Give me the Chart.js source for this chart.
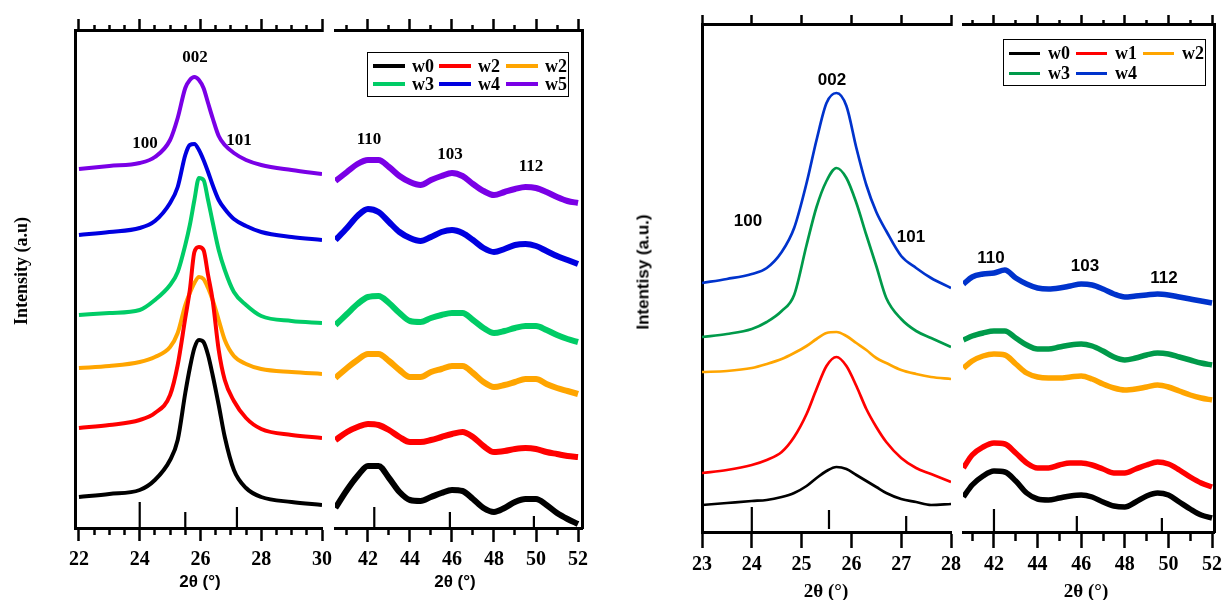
<!DOCTYPE html>
<html>
<head>
<meta charset="utf-8">
<title>XRD patterns</title>
<script src="https://cdn.jsdelivr.net/npm/chart.js@4.4.1/dist/chart.umd.min.js"></script>
<style>
  html, body { margin: 0; padding: 0; background: #fff; }
  body { position: relative; width: 1224px; height: 600px; overflow: hidden; }
  canvas { position: absolute; top: 0; }
  .t { position: absolute; transform: translate(-50%, -50%); font-weight: bold; white-space: nowrap; color: #000; line-height: 1; }
  .serif { font-family: 'Liberation Serif', 'Times New Roman', serif; }
  .sans { font-family: 'Liberation Sans', Arial, sans-serif; }
  .yt { transform: translate(-50%, -50%) rotate(-90deg); }
  .legend { position: absolute; border: 1.5px solid #000; box-sizing: border-box; background: #fff; }
  .legend .item { position: absolute; display: flex; align-items: center; transform: translateY(-50%);
                  font: bold 18px 'Liberation Serif', serif; line-height: 1; }
</style>
</head>
<body>
<canvas id="aLow" width="345" height="600" style="left:0"></canvas>
<canvas id="aHigh" width="300" height="600" style="left:312px"></canvas>
<canvas id="bLow" width="350" height="600" style="left:620px"></canvas>
<canvas id="bHigh" width="290" height="600" style="left:945px"></canvas>

<!-- left figure text -->
<div class="t serif yt" style="left:21px;top:271px;font-size:18px">Intensity (a.u)</div>
<div class="t sans" style="left:200px;top:581px;font-size:17px">2θ (°)</div>
<div class="t sans" style="left:455px;top:581px;font-size:17px">2θ (°)</div>
<div class="t serif" style="left:195px;top:56px;font-size:17px">002</div>
<div class="t serif" style="left:145px;top:142px;font-size:17px">100</div>
<div class="t serif" style="left:239px;top:139px;font-size:17px">101</div>
<div class="t serif" style="left:369px;top:138px;font-size:17px">110</div>
<div class="t serif" style="left:450px;top:153px;font-size:17px">103</div>
<div class="t serif" style="left:531px;top:165px;font-size:17px">112</div>
<div id="legA" class="legend" style="left:367px;top:52px;width:202px;height:45px"></div>

<!-- right figure text -->
<div class="t sans yt" style="left:643px;top:272px;font-size:17px">Intentisy (a.u.)</div>
<div class="t serif" style="left:826px;top:590px;font-size:19px">2θ (°)</div>
<div class="t serif" style="left:1086px;top:590px;font-size:19px">2θ (°)</div>
<div class="t sans" style="left:832px;top:79px;font-size:17px">002</div>
<div class="t sans" style="left:748px;top:220px;font-size:17px">100</div>
<div class="t sans" style="left:911px;top:236px;font-size:17px">101</div>
<div class="t sans" style="left:991px;top:257px;font-size:17px">110</div>
<div class="t sans" style="left:1085px;top:265px;font-size:17px">103</div>
<div class="t sans" style="left:1164px;top:277px;font-size:17px">112</div>
<div id="legB" class="legend" style="left:1003px;top:39px;width:203px;height:47px"></div>

<script>
// ---- sample set A (w0..w5) ----
const namesA = ['w0', 'w2', 'w2', 'w3', 'w4', 'w5'];
const colorsA = ['#000000', '#ff0000', '#ffa500', '#00cc66', '#0000e0', '#7a00e6'];

// 2θ 22–30 region (002 peak)
const xA1 = [22, 23, 24, 24.5, 25, 25.25, 25.5, 25.65, 25.8, 25.95, 26.1, 26.25, 26.4, 26.6, 26.8, 27.1, 27.5, 28, 29, 30];
const a1w0 = [31, 34, 38, 48, 68, 88, 135, 160, 180, 188, 186, 173, 153, 123, 91, 58, 40, 31, 26, 23];
const a1w2r = [100, 103, 108, 115, 133, 163, 210, 238, 276, 281, 278, 253, 228, 178, 148, 127, 110, 99, 93, 90];
const a1w2o = [160, 162, 166, 171, 181, 195, 223, 235, 245, 251, 249, 240, 228, 208, 188, 172, 164, 159, 156, 154];
const a1w3 = [213, 215, 218, 228, 243, 256, 283, 303, 328, 350, 348, 328, 306, 278, 258, 236, 223, 212, 207, 205];
const a1w4 = [293, 296, 300, 307, 325, 341, 373, 383, 384, 378, 368, 356, 343, 328, 319, 309, 302, 296, 291, 288];
const a1w5 = [359, 362, 365, 371, 388, 410, 440, 448, 451, 448, 440, 425, 410, 392, 383, 375, 368, 363, 358, 354];

// 2θ 40–52 region (110, 103, 112)
const xA2 = [40.45, 41, 41.5, 42, 42.5, 43, 43.5, 44, 44.5, 45, 45.5, 46, 46.5, 47, 47.5, 48, 48.5, 49, 49.5, 50, 50.5, 51, 51.5, 52];
const a2w0 = [20, 38, 52, 62, 62, 50, 36, 28, 27, 31, 35, 38, 37, 29, 20, 16, 20, 26, 29, 29, 23, 15, 9, 4];
const a2w2r = [88, 96, 101, 104, 103, 98, 91, 86, 86, 88, 91, 94, 96, 91, 82, 76, 77, 79, 80, 79, 76, 74, 72, 71];
const a2w2o = [150, 160, 168, 174, 174, 167, 158, 151, 151, 156, 159, 162, 162, 155, 146, 141, 143, 146, 149, 149, 144, 140, 137, 134];
const a2w3 = [203, 214, 224, 231, 232, 225, 215, 207, 206, 210, 213, 215, 215, 208, 200, 195, 197, 200, 202, 202, 198, 193, 189, 186];
const a2w4 = [288, 300, 312, 319, 316, 306, 296, 290, 287, 291, 296, 298, 295, 288, 280, 276, 279, 283, 284, 282, 277, 272, 268, 264];
const a2w5 = [347, 356, 364, 368, 368, 361, 352, 346, 343, 348, 352, 355, 352, 344, 337, 333, 336, 339, 341, 340, 336, 331, 327, 325];

// reference pattern lines
const refA1 = [24, 25.5, 27.2];
const refA1h = [26, 16, 21];
const refA2 = [42.3, 45.9, 49.9];
const refA2h = [21, 16, 12];

// tick values
const ticksA1 = [22, 24, 26, 28, 30];
const minorA1 = [22.5, 23, 23.5, 24.5, 25, 25.5, 26.5, 27, 27.5, 28.5, 29, 29.5];
const ticksA2 = [42, 44, 46, 48, 50, 52];
const minorA2 = [41, 43, 45, 47, 49, 51];

// ---- sample set B (w0..w4) ----
const namesB = ['w0', 'w1', 'w2', 'w3', 'w4'];
const colorsB = ['#000000', '#ff0000', '#ffa500', '#009a4a', '#0033cc'];

const xB1 = [23, 23.5, 24, 24.3, 24.6, 24.85, 25.1, 25.3, 25.5, 25.7, 25.9, 26.1, 26.3, 26.5, 26.7, 27, 27.3, 27.6, 28];
const b1w0 = [27, 29, 31, 32, 35, 39, 46, 54, 61, 65, 63, 57, 51, 45, 39, 33, 30, 27, 28];
const b1w1 = [59, 62, 67, 72, 80, 95, 118, 143, 166, 175, 166, 146, 123, 105, 90, 74, 64, 58, 50];
const b1w2 = [160, 161, 164, 168, 173, 179, 186, 193, 199, 200, 196, 189, 182, 174, 169, 162, 158, 155, 153];
const b1w3 = [195, 198, 203, 210, 221, 237, 287, 325, 351, 364, 354, 329, 297, 266, 234, 213, 201, 194, 185];
const b1w4 = [249, 253, 258, 264, 280, 304, 349, 392, 429, 439, 426, 384, 347, 320, 301, 276, 264, 254, 244];

const xB2 = [40.6, 41, 41.5, 42, 42.5, 43, 43.5, 44, 44.5, 45, 45.5, 46, 46.5, 47, 47.5, 48, 48.5, 49, 49.5, 50, 50.5, 51, 51.5, 52];
const b2w0 = [35, 47, 56, 61, 60, 51, 39, 33, 32, 34, 36, 37, 35, 30, 26, 25, 30, 36, 39, 37, 30, 23, 17, 14];
const b2w1 = [64, 77, 85, 89, 88, 79, 69, 64, 64, 67, 69, 69, 67, 63, 59, 59, 63, 67, 70, 68, 62, 55, 49, 45];
const b2w2 = [164, 171, 176, 178, 177, 168, 159, 155, 154, 154, 155, 156, 153, 148, 144, 142, 143, 145, 147, 145, 141, 137, 134, 132];
const b2w3 = [192, 196, 199, 201, 201, 194, 187, 183, 183, 185, 187, 188, 186, 181, 175, 172, 174, 177, 179, 178, 175, 172, 169, 167];
const b2w4 = [248, 255, 258, 259, 262, 254, 248, 244, 243, 244, 246, 248, 247, 243, 238, 235, 236, 237, 238, 237, 235, 233, 231, 229];

const refB1 = [24, 25.55, 27.1];
const refB1h = [25, 22, 16];
const refB1base = [0, 3, 0];
const refB2 = [42, 45.8, 49.7];
const refB2h = [23, 16, 14];

const ticksB1 = [23, 24, 25, 26, 27, 28];
const ticksB2 = [42, 44, 46, 48, 50, 52];
const minorB2 = [41, 43, 45, 47, 49, 51];

const tickFont = { family: "'Liberation Serif', 'Times New Roman', serif", weight: 'bold', size: 20 };

function tickAxis(values, yPos, len, opts) {
  return {
    type: 'linear', axis: 'x', position: { y: yPos },
    min: opts.min, max: opts.max, bounds: 'data',
    afterBuildTicks: ax => { ax.ticks = values.map(v => ({ value: v })); },
    grid: { drawOnChartArea: false, tickLength: len, tickWidth: 2.5, tickColor: '#000' },
    border: { display: true, width: 3, color: '#000' },
    ticks: {
      display: !!opts.labels, autoSkip: false, maxRotation: 0, minRotation: 0,
      padding: opts.pad || 0, color: '#000', font: tickFont,
      callback: v => String(v)
    }
  };
}

function createPanel(canvasId, p) {
  const datasets = p.series.map((ys, i) => ({
    data: p.xs.map((x, j) => ({ x: x, y: ys[j] })),
    borderColor: p.colors[i],
    borderWidth: p.width,
    showLine: true,
    pointRadius: 0,
    fill: false,
    cubicInterpolationMode: 'monotone'
  }));

  // short vertical sticks for the reference pattern
  const sticks = [];
  p.ref.forEach((x, i) => {
    const base = p.refBase ? p.refBase[i] : 0;
    sticks.push({ x: x, y: base }, { x: x, y: p.refH[i] }, { x: x, y: null });
  });
  datasets.push({ data: sticks, borderColor: '#000', borderWidth: 2.2, showLine: true, pointRadius: 0, spanGaps: false });

  const scales = {
    x: tickAxis(p.majors, 0, p.bottomLen[0], { min: p.min, max: p.max, labels: true, pad: p.labelPad }),
    xTop: tickAxis(p.majors, p.yMax, -p.topLen[0], { min: p.min, max: p.max }),
    y: {
      type: 'linear', position: p.side, min: 0, max: p.yMax, bounds: 'data',
      ticks: { display: false }, grid: { display: false, drawTicks: false, tickLength: 0 },
      border: { display: true, width: 3, color: '#000' }
    }
  };
  if (p.minors) {
    scales.xMinor = tickAxis(p.minors, 0, p.bottomLen[1], { min: p.min, max: p.max });
    scales.xTopMinor = tickAxis(p.minors, p.yMax, -p.topLen[1], { min: p.min, max: p.max });
  }

  new Chart(document.getElementById(canvasId), {
    type: 'scatter',
    data: { datasets: datasets },
    options: {
      responsive: false,
      animation: false,
      layout: { padding: p.padding },
      plugins: { legend: { display: false }, tooltip: { enabled: false } },
      scales: scales
    }
  });
}

function buildLegend(id, names, colors, cfg) {
  const box = document.getElementById(id);
  names.forEach((name, i) => {
    const item = document.createElement('div');
    item.className = 'item';
    item.style.left = cfg.cols[i % 3] + 'px';
    item.style.top = cfg.rows[Math.floor(i / 3)] + 'px';
    const swatch = document.createElement('span');
    swatch.style.cssText = `display:inline-block;width:${cfg.line}px;height:${cfg.thick}px;background:${colors[i]};margin-right:${cfg.gap}px`;
    item.appendChild(swatch);
    item.appendChild(document.createTextNode(name));
    box.appendChild(item);
  });
}

createPanel('aLow', {
  xs: xA1, series: [a1w0, a1w2r, a1w2o, a1w3, a1w4, a1w5], colors: colorsA, width: 4,
  ref: refA1, refH: refA1h,
  min: 21.87, max: 30, yMax: 498, side: 'left',
  majors: ticksA1, minors: minorA1, bottomLen: [11, 5], topLen: [13, 7], labelPad: 9,
  padding: { left: 75, right: 23, top: 30, bottom: 72 }
});

createPanel('aHigh', {
  xs: xA2, series: [a2w0, a2w2r, a2w2o, a2w3, a2w4, a2w5], colors: colorsA, width: 6,
  ref: refA2, refH: refA2h,
  min: 40.43, max: 52.19, yMax: 498, side: 'right',
  majors: ticksA2, minors: minorA2, bottomLen: [12, 5], topLen: [13, 7], labelPad: 8,
  padding: { left: 23, right: 30, top: 30, bottom: 72 }
});

createPanel('bLow', {
  xs: xB1, series: [b1w0, b1w1, b1w2, b1w3, b1w4], colors: colorsB, width: 2.7,
  ref: refB1, refH: refB1h, refBase: refB1base,
  min: 23, max: 28, yMax: 508, side: 'left',
  majors: ticksB1, minors: null, bottomLen: [14], topLen: [11], labelPad: 7,
  padding: { left: 82, right: 19, top: 24, bottom: 68 }
});

createPanel('bHigh', {
  xs: xB2, series: [b2w0, b2w1, b2w2, b2w3, b2w4], colors: colorsB, width: 5.5,
  ref: refB2, refH: refB2h,
  min: 40.58, max: 52.09, yMax: 508, side: 'right',
  majors: ticksB2, minors: minorB2, bottomLen: [14, 7], topLen: [11, 6], labelPad: 7,
  padding: { left: 18, right: 21, top: 24, bottom: 68 }
});

buildLegend('legA', namesA, colorsA, { cols: [5, 71, 138], rows: [13, 31], line: 32, thick: 4, gap: 7 });
buildLegend('legB', namesB, colorsB, { cols: [5, 72, 139], rows: [13, 33], line: 31, thick: 3, gap: 8 });
</script>
</body>
</html>
